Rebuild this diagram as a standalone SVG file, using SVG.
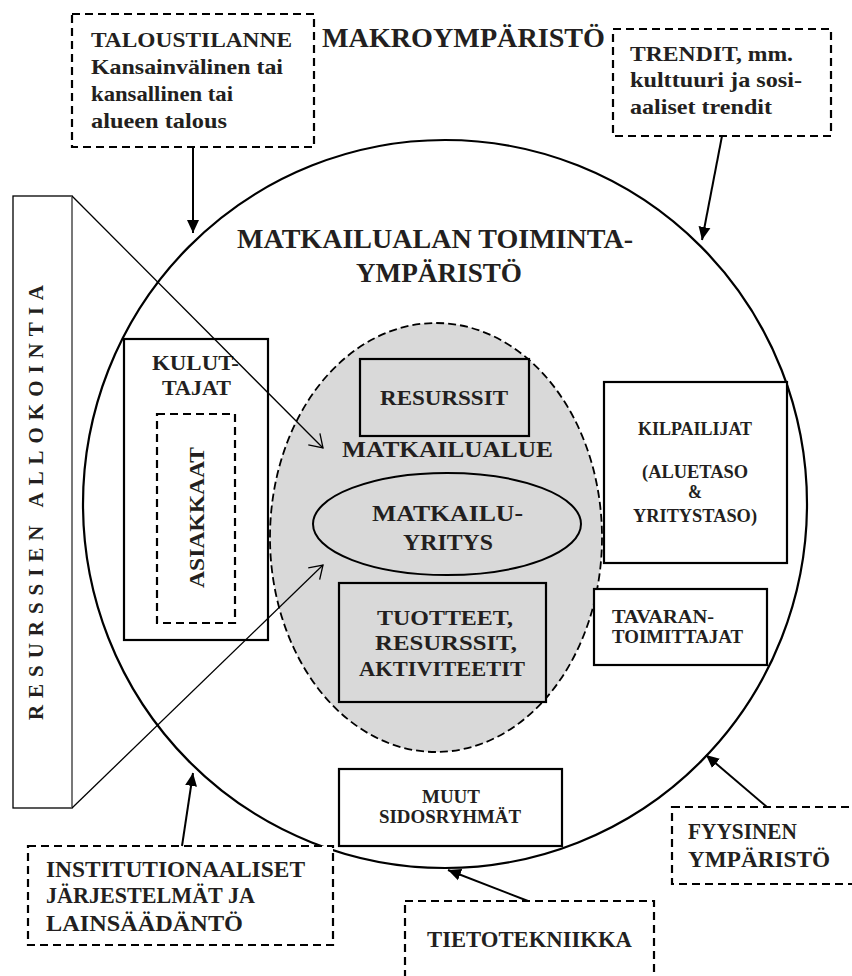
<svg xmlns="http://www.w3.org/2000/svg" width="852" height="976" viewBox="0 0 852 976">
  <style>
    .t { font-family: "Liberation Serif", "Times New Roman", serif; font-weight: bold; fill: #231f20; }
    .s26 { font-size: 27px; }
    .s22 { font-size: 23px; }
    .s21 { font-size: 22px; }
    .s17 { font-size: 18px; }
    .box { fill: #ffffff; stroke: #000000; stroke-width: 2.2; }
    .gbox { fill: #d9d9d9; stroke: #000000; stroke-width: 2.2; }
    .dash { fill: #ffffff; stroke: #000000; stroke-width: 2.2; stroke-dasharray: 8 5; }
    .arrow { stroke: #000000; stroke-width: 2; fill: none; marker-end: url(#solidHead); }
    .thin { stroke: #000000; stroke-width: 1.3; fill: none; marker-end: url(#openHead); }
  </style>
  <defs>
    <marker id="solidHead" markerUnits="userSpaceOnUse" viewBox="-13 -6.5 14 13" refX="0" refY="0" markerWidth="14" markerHeight="13" orient="auto">
      <path d="M-13,-6 L0,0 L-13,6 z" fill="#000000"/>
    </marker>
    <marker id="openHead" markerUnits="userSpaceOnUse" viewBox="-14 -10 16 20" refX="0" refY="0" markerWidth="16" markerHeight="20" orient="auto">
      <path d="M-12.6,-8.2 L0,0 L-12.6,8.2" fill="none" stroke="#000000" stroke-width="1.3"/>
    </marker>
  </defs>

  <rect x="0" y="0" width="852" height="976" fill="#ffffff"/>

  <!-- operating environment circle -->
  <g id="toimintaymparisto">
    <ellipse cx="445" cy="504" rx="362" ry="364" fill="none" stroke="#000000" stroke-width="2.2"/>
    <text class="t s26" x="237" y="248" textLength="396" lengthAdjust="spacingAndGlyphs">MATKAILUALAN TOIMINTA-</text>
    <text class="t s26" x="356" y="282" textLength="166" lengthAdjust="spacingAndGlyphs">YMPÄRISTÖ</text>
  </g>

  <g id="makroymparisto">
    <text class="t s26" x="322" y="47" textLength="283" lengthAdjust="spacingAndGlyphs">MAKROYMPÄRISTÖ</text>
  </g>

  <!-- tourism region -->
  <g id="matkailualue">
    <ellipse cx="436" cy="537.5" rx="166" ry="214.5" fill="#d9d9d9" stroke="#000000" stroke-width="1.8" stroke-dasharray="8 4"/>
    <text class="t s22" x="342" y="457" textLength="211" lengthAdjust="spacingAndGlyphs">MATKAILUALUE</text>
  </g>

  <g id="resurssit">
    <rect class="gbox" x="360" y="359" width="169" height="77"/>
    <text class="t s21" x="380" y="405" textLength="128" lengthAdjust="spacingAndGlyphs">RESURSSIT</text>
  </g>

  <g id="matkailuyritys">
    <ellipse cx="447" cy="524" rx="134" ry="51" fill="#d9d9d9" stroke="#000000" stroke-width="2"/>
    <text class="t s22" x="372" y="521" textLength="151" lengthAdjust="spacingAndGlyphs">MATKAILU-</text>
    <text class="t s22" x="403" y="550" textLength="90" lengthAdjust="spacingAndGlyphs">YRITYS</text>
  </g>

  <g id="tuotteet">
    <rect class="gbox" x="339" y="583" width="207" height="119"/>
    <text class="t s21" x="377" y="625" textLength="136" lengthAdjust="spacingAndGlyphs">TUOTTEET,</text>
    <text class="t s21" x="375" y="650" textLength="142" lengthAdjust="spacingAndGlyphs">RESURSSIT,</text>
    <text class="t s21" x="359" y="676" textLength="166" lengthAdjust="spacingAndGlyphs">AKTIVITEETIT</text>
  </g>

  <g id="kuluttajat">
    <rect class="box" x="124" y="339" width="144" height="301" style="fill:none"/>
    <text class="t s21" x="152" y="370" textLength="87" lengthAdjust="spacingAndGlyphs">KULUT-</text>
    <text class="t s21" x="162" y="395" textLength="69" lengthAdjust="spacingAndGlyphs">TAJAT</text>
  </g>

  <g id="asiakkaat">
    <rect class="dash" x="157" y="414" width="78" height="209" style="fill:none"/>
    <text class="t s21" transform="translate(204,588) rotate(-90)" x="0" y="0" textLength="141" lengthAdjust="spacingAndGlyphs">ASIAKKAAT</text>
  </g>

  <g id="kilpailijat">
    <rect class="box" x="604" y="382" width="183" height="181"/>
    <text class="t s17" x="638" y="435" textLength="114" lengthAdjust="spacingAndGlyphs">KILPAILIJAT</text>
    <text class="t s17" x="642" y="478" textLength="106" lengthAdjust="spacingAndGlyphs">(ALUETASO</text>
    <text class="t s17" x="688" y="498" textLength="14" lengthAdjust="spacingAndGlyphs">&amp;</text>
    <text class="t s17" x="633" y="522" textLength="124" lengthAdjust="spacingAndGlyphs">YRITYSTASO)</text>
  </g>

  <g id="tavarantoimittajat">
    <rect class="box" x="594" y="589" width="173" height="76"/>
    <text class="t s17" x="612" y="623" textLength="102" lengthAdjust="spacingAndGlyphs">TAVARAN-</text>
    <text class="t s17" x="612" y="643" textLength="131" lengthAdjust="spacingAndGlyphs">TOIMITTAJAT</text>
  </g>

  <g id="muutsidosryhmat">
    <rect class="box" x="339" y="769" width="223" height="77"/>
    <text class="t s17" x="422" y="803" textLength="58" lengthAdjust="spacingAndGlyphs">MUUT</text>
    <text class="t s17" x="379" y="823" textLength="142" lengthAdjust="spacingAndGlyphs">SIDOSRYHMÄT</text>
  </g>

  <!-- resource allocation panel -->
  <g id="resurssienallokointia">
    <rect x="13" y="196" width="59" height="612" fill="#ffffff" stroke="#000000" stroke-width="1.3"/>
    <line x1="72" y1="196" x2="72" y2="808" stroke="#808080" stroke-width="1.6"/>
    <text class="t" style="font-size:21px" transform="translate(43,720) rotate(-90)" x="0" y="0" textLength="435" lengthAdjust="spacing">RESURSSIEN ALLOKOINTIA</text>
  </g>

  <!-- macro environment factors -->
  <g id="taloustilanne">
    <rect class="dash" x="72" y="14" width="242" height="133"/>
    <text class="t s21" x="91" y="47" textLength="201" lengthAdjust="spacingAndGlyphs">TALOUSTILANNE</text>
    <text class="t s21" x="91" y="74" textLength="192" lengthAdjust="spacingAndGlyphs">Kansainvälinen tai</text>
    <text class="t s21" x="91" y="101" textLength="142" lengthAdjust="spacingAndGlyphs">kansallinen tai</text>
    <text class="t s21" x="91" y="128" textLength="136" lengthAdjust="spacingAndGlyphs">alueen talous</text>
  </g>

  <g id="trendit">
    <rect class="dash" x="613" y="29" width="218" height="107"/>
    <text class="t s21" x="630" y="61" textLength="163" lengthAdjust="spacingAndGlyphs">TRENDIT, mm.</text>
    <text class="t s21" x="630" y="87" textLength="172" lengthAdjust="spacingAndGlyphs">kulttuuri ja sosi-</text>
    <text class="t s21" x="630" y="114" textLength="142" lengthAdjust="spacingAndGlyphs">aaliset trendit</text>
  </g>

  <g id="institutionaaliset">
    <rect class="dash" x="28" y="846" width="305" height="99"/>
    <text class="t s22" x="46" y="877" textLength="259" lengthAdjust="spacingAndGlyphs">INSTITUTIONAALISET</text>
    <text class="t s22" x="46" y="903" textLength="209" lengthAdjust="spacingAndGlyphs">JÄRJESTELMÄT JA</text>
    <text class="t s22" x="46" y="931" textLength="197" lengthAdjust="spacingAndGlyphs">LAINSÄÄDÄNTÖ</text>
  </g>

  <g id="tietotekniikka">
    <rect class="dash" x="405" y="901" width="249" height="95"/>
    <text class="t s22" x="427" y="947" textLength="205" lengthAdjust="spacingAndGlyphs">TIETOTEKNIIKKA</text>
  </g>

  <g id="fyysinenymparisto">
    <rect class="dash" x="672" y="807" width="190" height="77"/>
    <text class="t s22" x="688" y="839" textLength="109" lengthAdjust="spacingAndGlyphs">FYYSINEN</text>
    <text class="t s22" x="688" y="867" textLength="142" lengthAdjust="spacingAndGlyphs">YMPÄRISTÖ</text>
  </g>

  <!-- connectors -->
  <g id="connectors">
    <line class="thin" x1="72" y1="196" x2="323" y2="448"/>
    <line class="thin" x1="72" y1="808" x2="323" y2="565"/>
    <line class="arrow" x1="193" y1="147" x2="193" y2="233"/>
    <line class="arrow" x1="722" y1="136" x2="702" y2="240"/>
    <line class="arrow" x1="182" y1="846" x2="193" y2="773"/>
    <line class="arrow" x1="528" y1="901" x2="448" y2="870"/>
    <line class="arrow" x1="767" y1="807" x2="706" y2="755"/>
  </g>
</svg>
